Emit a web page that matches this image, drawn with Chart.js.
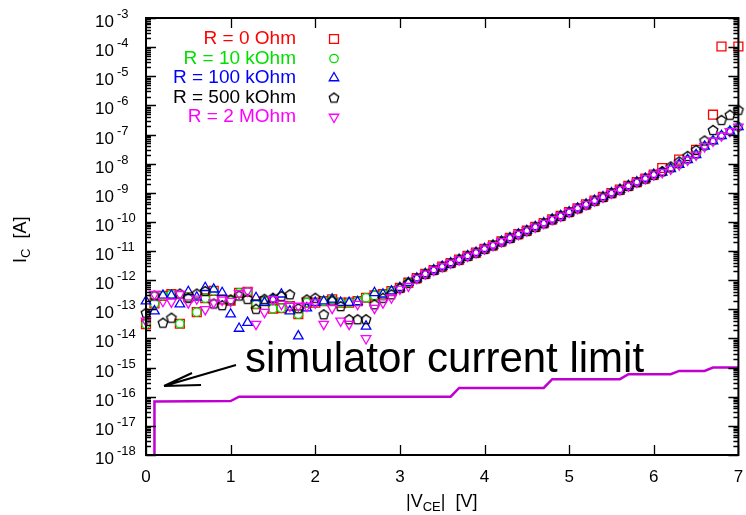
<!DOCTYPE html>
<html>
<head>
<meta charset="utf-8">
<script src="https://cdn.jsdelivr.net/npm/chart.js@4.4.0/dist/chart.umd.min.js"></script>
<style>
  html, body { margin: 0; padding: 0; background: #fff; }
  #wrap { width: 746px; height: 515px; }
</style>
</head>
<body>
<div id="wrap"><canvas id="chart" width="746" height="515"></canvas></div>
<script>
// |VCE| sweep, 0.1 V steps
const vce = [0.0, 0.1, 0.2, 0.3, 0.4, 0.5, 0.6, 0.7, 0.8, 0.9,
  1.0, 1.1, 1.2, 1.3, 1.4, 1.5, 1.6, 1.7, 1.8, 1.9,
  2.0, 2.1, 2.2, 2.3, 2.4, 2.5, 2.6, 2.7, 2.8, 2.9,
  3.0, 3.1, 3.2, 3.3, 3.4, 3.5, 3.6, 3.7, 3.8, 3.9,
  4.0, 4.1, 4.2, 4.3, 4.4, 4.5, 4.6, 4.7, 4.8, 4.9,
  5.0, 5.1, 5.2, 5.3, 5.4, 5.5, 5.6, 5.7, 5.8, 5.9,
  6.0, 6.1, 6.2, 6.3, 6.4, 6.5, 6.6, 6.7, 6.8, 6.9, 7.0];

// noise floor part, 0.0 .. 3.1 V
const noise0 = [3.1e-14, 1.6e-13, 2.9e-13, 3.3e-13, 3.2e-14, 2.6e-13, 8.0e-14, 2.4e-13, 4.3e-13, 2.2e-13,
  2.0e-13, 3.7e-13, 4.0e-13, 1.5e-13, 1.9e-13, 1.05e-13, 1.1e-13, 1.3e-13, 6.8e-14, 1.7e-13,
  1.7e-13, 1.9e-13, 2.2e-13, 1.7e-13, 1.7e-13, 1.9e-13, 2.5e-13, 3.0e-13, 3.3e-13, 4.2e-13, 5.5e-13, 8.2e-13];
const noise10k = [3.1e-14, 1.6e-13, 2.9e-13, 3.3e-13, 3.2e-14, 2.6e-13, 8.0e-14, 2.4e-13, 4.3e-13, 2.2e-13,
  2.0e-13, 3.7e-13, 4.0e-13, 1.5e-13, 1.9e-13, 1.05e-13, 1.1e-13, 1.3e-13, 6.8e-14, 1.7e-13,
  1.7e-13, 1.9e-13, 2.2e-13, 1.7e-13, 1.7e-13, 1.9e-13, 2.5e-13, 3.0e-13, 3.3e-13, 4.2e-13, 5.5e-13, 8.2e-13];
const noise100k = [1.9e-13, 8.7e-14, 3.0e-13, 3.0e-13, 1.5e-13, 4.0e-13, 2.6e-13, 5.5e-13, 4.9e-13, 3.7e-13,
  6.8e-14, 2.2e-14, 3.5e-14, 2.5e-13, 1.7e-13, 2.2e-13, 3.3e-13, 8.7e-14, 1.2e-14, 1.1e-13,
  1.7e-13, 1.9e-13, 2.2e-13, 1.7e-13, 1.7e-13, 1.8e-13, 2.6e-14, 3.7e-13, 3.3e-13, 4.2e-13, 5.5e-13, 8.2e-13];
const noise500k = [7.7e-14, 3.0e-13, 3.5e-14, 5.2e-14, 3.5e-13, 2.5e-13, 3.5e-13, 4.3e-13, 1.6e-13, 1.4e-13,
  2.2e-13, 3.0e-13, 2.3e-13, 1.05e-13, 2.3e-13, 2.5e-13, 2.9e-13, 3.3e-13, 1.1e-13, 2.2e-13,
  2.5e-13, 6.8e-14, 2.0e-13, 1.3e-13, 4.6e-14, 4.6e-14, 4.6e-14, 1.5e-13, 2.5e-13, 3.3e-13, 5.5e-13, 8.2e-13];
const noise2M = [4.0e-14, 3.3e-13, 1.9e-13, 1.8e-13, 3.3e-13, 1.7e-13, 2.3e-13, 1.0e-13, 1.7e-13, 2.1e-13,
  1.9e-13, 3.5e-13, 4.3e-13, 3.1e-14, 8.0e-14, 2.2e-13, 1.5e-13, 1.3e-13, 1.3e-13, 1.3e-13,
  1.7e-13, 3.1e-14, 1.1e-13, 4.0e-14, 3.1e-14, 1.5e-13, 1.0e-14, 1.1e-13, 1.7e-13, 2.5e-13, 5.0e-13, 6.3e-13];

// exponential part shared by all curves, 3.2 .. 6.0 V
const slope = [1.17e-12, 1.66e-12, 2.24e-12, 2.95e-12, 3.9e-12, 5.1e-12, 6.8e-12, 8.9e-12, 1.2e-11,
  1.58e-11, 2.14e-11, 2.82e-11, 3.8e-11, 5.0e-11, 6.8e-11, 9.1e-11, 1.23e-10, 1.62e-10, 2.19e-10,
  2.95e-10, 4.0e-10, 5.4e-10, 7.2e-10, 9.8e-10, 1.29e-9, 1.74e-9, 2.34e-9, 3.1e-9, 4.2e-9];

// high injection part, 6.1 .. 7.0 V
const tail0 = [7.1e-9, null, 1.38e-8, null, 3.0e-8, null, 4.8e-7, 1.05e-4, null, 1.05e-4];
const tail10k = [5.0e-9, 6.6e-9, 9.3e-9, 1.35e-8, 2.0e-8, 3.9e-8, 6.0e-8, 9.1e-8, 1.29e-7, 1.82e-7];
const tail100k = [5.0e-9, 6.6e-9, 9.3e-9, 1.35e-8, 2.0e-8, 3.9e-8, 6.0e-8, 9.1e-8, 1.29e-7, 1.82e-7];
const tail500k = [5.6e-9, 8.1e-9, 1.2e-8, 1.86e-8, 3.0e-8, 6.3e-8, 1.45e-7, 3.2e-7, 4.8e-7, 7.1e-7];
const tail2M = [5.0e-9, 6.6e-9, 9.3e-9, 1.35e-8, 2.0e-8, 3.9e-8, 6.0e-8, 9.1e-8, 1.29e-7, 1.82e-7];

// simulator current limit
const limitV = [0.1, 0.1, 1.0, 1.1, 3.6, 3.7, 4.7, 4.8, 5.6, 5.7, 6.2, 6.3, 6.6, 6.7, 7.0];
const limitI = [1e-18, 6.9e-17, 7.1e-17, 1.0e-16, 1.0e-16, 2.0e-16, 2.0e-16, 4.0e-16, 4.0e-16,
  5.9e-16, 5.9e-16, 7.7e-16, 7.7e-16, 1.0e-15, 1.0e-15];

const decades = [-18, -17, -16, -15, -14, -13, -12, -11, -10, -9, -8, -7, -6, -5, -4, -3];
const xTicks = [0, 1, 2, 3, 4, 5, 6, 7];

const FONT = "'Liberation Sans', Arial, sans-serif";
Chart.defaults.font.family = FONT;

function pentagon(color) {
  const c = document.createElement('canvas');
  c.width = 14; c.height = 14;
  const g = c.getContext('2d');
  g.strokeStyle = color;
  g.lineWidth = 1.3;
  g.beginPath();
  for (let i = 0; i < 5; i++) {
    const a = -Math.PI / 2 + i * 2 * Math.PI / 5;
    const px = 7 + 5 * Math.cos(a), py = 7.6 + 5 * Math.sin(a);
    if (i) g.lineTo(px, py); else g.moveTo(px, py);
  }
  g.closePath();
  g.stroke();
  return c;
}

function points(noise, tail) {
  const ys = noise.concat(slope, tail);
  return vce.map((v, i) => ({x: v, y: ys[i]}));
}

const series = [
  {label: 'R = 0 Ohm', color: '#ff0000', data: points(noise0, tail0), style: 'rect', radius: 6.3, rot: 0},
  {label: 'R = 10 kOhm', color: '#00e000', data: points(noise10k, tail10k), style: 'circle', radius: 4.2, rot: 0},
  {label: 'R = 100 kOhm', color: '#0000ff', data: points(noise100k, tail100k), style: 'triangle', radius: 5.5, rot: 0},
  {label: 'R = 500 kOhm', color: '#000000', data: points(noise500k, tail500k), style: pentagon('#000000'), radius: 5, rot: 0},
  {label: 'R = 2 MOhm', color: '#ff00ff', data: points(noise2M, tail2M), style: 'triangle', radius: 5.5, rot: 180}
];

const datasets = series.map((s, i) => ({
  label: s.label,
  data: s.data,
  showLine: false,
  pointStyle: s.style,
  pointRadius: s.radius,
  pointRotation: s.rot,
  pointBorderColor: s.color,
  pointBackgroundColor: 'rgba(0,0,0,0)',
  pointBorderWidth: 1.3,
  clip: false,
  order: series.length - i
}));
datasets.push({
  label: 'limit',
  data: limitV.map((v, i) => ({x: v, y: limitI[i]})),
  showLine: true,
  borderColor: '#c000d0',
  borderWidth: 2.5,
  pointRadius: 0,
  order: 10
});

// frame, inward ticks, labels, legend and the annotation
const decorations = {
  id: 'decorations',
  afterDraw(chart) {
    const ctx = chart.ctx;
    const a = chart.chartArea;
    const xs = chart.scales.x, ys = chart.scales.y;
    ctx.save();
    ctx.strokeStyle = '#000';
    ctx.fillStyle = '#000';

    // ticks
    ctx.lineWidth = 1.3;
    ctx.beginPath();
    xTicks.forEach(v => {
      const px = Math.round(xs.getPixelForValue(v)) + 0.5;
      ctx.moveTo(px, a.bottom); ctx.lineTo(px, a.bottom - 10);
      ctx.moveTo(px, a.top); ctx.lineTo(px, a.top + 10);
    });
    decades.forEach(e => {
      for (let m = 1; m < 10; m++) {
        const v = m * Math.pow(10, e);
        if (v > 1.0001e-3) break;
        const py = Math.round(ys.getPixelForValue(v)) + 0.5;
        const len = m === 1 ? 10 : 5;
        ctx.moveTo(a.left, py); ctx.lineTo(a.left + len, py);
        ctx.moveTo(a.right, py); ctx.lineTo(a.right - len, py);
      }
    });
    ctx.stroke();

    // frame
    ctx.lineWidth = 2;
    ctx.strokeRect(a.left, a.top, a.right - a.left, a.bottom - a.top);

    // y tick labels 10^n
    decades.forEach(e => {
      const py = ys.getPixelForValue(Math.pow(10, e));
      ctx.font = '17px ' + FONT;
      ctx.textAlign = 'right';
      ctx.textBaseline = 'alphabetic';
      ctx.fillText('10', 114, py + 9);
      ctx.font = '13px ' + FONT;
      ctx.textAlign = 'left';
      ctx.fillText(String(e), 117, py);
    });

    // x tick labels
    ctx.font = '17px ' + FONT;
    ctx.textAlign = 'center';
    xTicks.forEach(v => ctx.fillText(String(v), xs.getPixelForValue(v), 482));

    // x title |V_CE|  [V]
    let x = 406;
    const base = 507;
    ctx.textAlign = 'left';
    ctx.font = '18px ' + FONT;
    ctx.fillText('|V', x, base); x += ctx.measureText('|V').width;
    ctx.font = '13px ' + FONT;
    ctx.fillText('CE', x, base + 4); x += ctx.measureText('CE').width;
    ctx.font = '18px ' + FONT;
    ctx.fillText('|  [V]', x, base);

    // y title I_C [A]
    ctx.save();
    ctx.translate(26, 263);
    ctx.rotate(-Math.PI / 2);
    let t = 0;
    ctx.font = '18px ' + FONT;
    ctx.fillText('I', t, 0); t += ctx.measureText('I').width;
    ctx.font = '13px ' + FONT;
    ctx.fillText('C', t, 4); t += ctx.measureText('C').width;
    ctx.font = '18px ' + FONT;
    ctx.fillText('  [A]', t, 0);
    ctx.restore();

    // legend: coloured label, hollow marker on its right
    series.forEach((s, i) => {
      const ly = 39 + i * 19.5;
      ctx.font = '19px ' + FONT;
      ctx.textAlign = 'right';
      ctx.textBaseline = 'middle';
      ctx.fillStyle = s.color;
      ctx.fillText(s.label, 296, ly);
      ctx.fillStyle = 'rgba(0,0,0,0)';
      ctx.strokeStyle = s.color;
      ctx.lineWidth = 1.3;
      Chart.helpers.drawPoint(ctx, {pointStyle: s.style, radius: s.radius, rotation: s.rot, borderWidth: 1.3}, 334, ly);
    });

    // annotation
    ctx.fillStyle = '#000';
    ctx.strokeStyle = '#000';
    ctx.textAlign = 'left';
    ctx.textBaseline = 'alphabetic';
    ctx.font = '42px ' + FONT;
    ctx.fillText('simulator current limit', 245, 372);
    ctx.lineWidth = 2;
    ctx.beginPath();
    ctx.moveTo(236, 365); ctx.lineTo(164, 386);
    ctx.moveTo(164, 386); ctx.lineTo(192, 373);
    ctx.moveTo(164, 386); ctx.lineTo(201, 385);
    ctx.stroke();
    ctx.restore();
  }
};

new Chart(document.getElementById('chart'), {
  type: 'scatter',
  data: {datasets: datasets},
  options: {
    responsive: false,
    animation: false,
    events: [],
    layout: {padding: {left: 146, right: 2, top: 18, bottom: 60}},
    plugins: {legend: {display: false}, tooltip: {enabled: false}},
    scales: {
      x: {
        type: 'linear', min: 0, max: 7,
        ticks: {display: false, stepSize: 1},
        grid: {display: false, drawTicks: false},
        border: {display: false}
      },
      y: {
        type: 'logarithmic', min: 1e-18, max: 1e-3,
        ticks: {display: false},
        grid: {display: false, drawTicks: false},
        border: {display: false},
        afterBuildTicks: scale => {
          scale.ticks = decades.map(e => ({value: Math.pow(10, e)}));
        }
      }
    }
  },
  plugins: [decorations]
});
</script>
</body>
</html>
